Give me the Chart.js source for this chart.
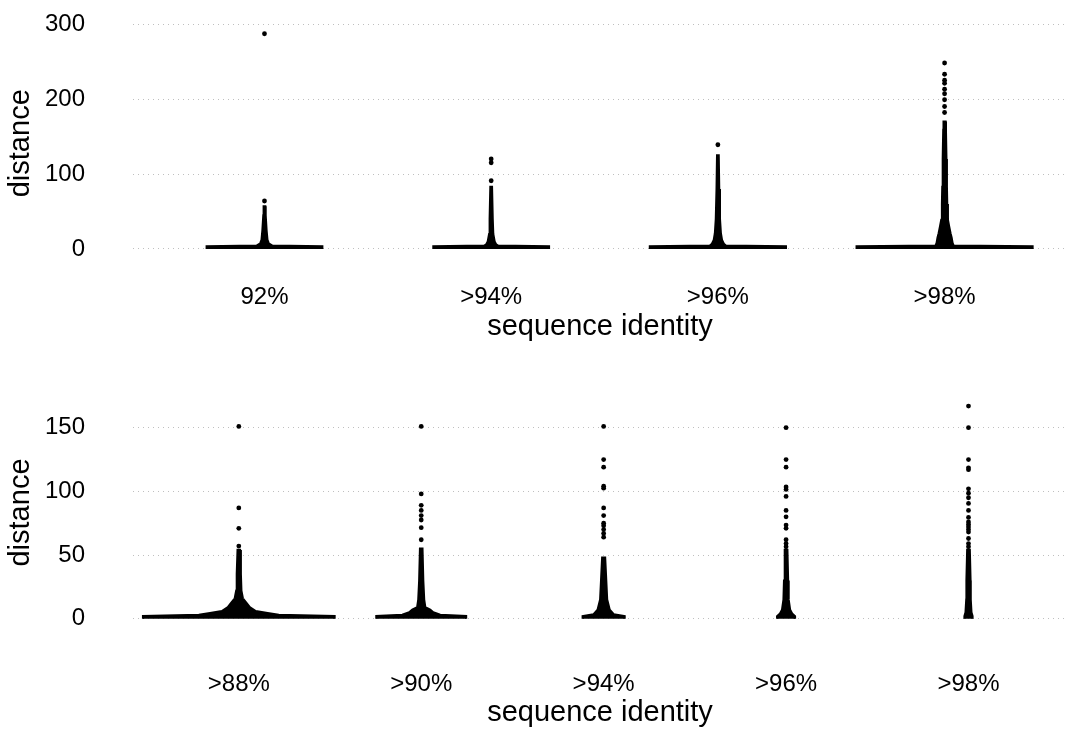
<!DOCTYPE html>
<html>
<head>
<meta charset="utf-8">
<script src="https://cdn.jsdelivr.net/npm/chart.js@4"></script>
<style>
  html, body { margin: 0; padding: 0; background: #fff; }
  body { width: 1071px; height: 732px; position: relative; overflow: hidden; }
  canvas { position: absolute; left: 0; }
  #topChart { top: 0; }
  #bottomChart { top: 360px; }
</style>
</head>
<body>
<canvas id="topChart" width="1071" height="345"></canvas>
<canvas id="bottomChart" width="1071" height="372"></canvas>
<script>
// ---------------------------------------
// swarm plots: distance vs sequence identity
// ---------------------------------------

const topCategories = ["92%", ">94%", ">96%", ">98%"];
const bottomCategories = [">88%", ">90%", ">94%", ">96%", ">98%"];

const topTicks = [0, 100, 200, 300];
const bottomTicks = [0, 50, 100, 150];

// dense body of each swarm: distance levels and the half width of the
// swarm at that level (fraction of the spacing between categories)
const top92Levels = [0, 3.5, 4.5, 6, 8, 12, 25, 45, 57];
const top92Half = [0.255, 0.255, 0.035, 0.026, 0.018, 0.013, 0.009, 0.005, 0.0035];
const top92Outliers = [64, 287];

const top94Levels = [0, 3.5, 4.5, 6, 10, 20, 40, 83];
const top94Half = [0.255, 0.255, 0.031, 0.022, 0.015, 0.009, 0.0066, 0.0035];
const top94Outliers = [91, 115, 120];

const top96Levels = [0, 3.5, 4.5, 7, 12, 21, 40, 80, 125];
const top96Half = [0.30, 0.30, 0.035, 0.026, 0.018, 0.013, 0.009, 0.0057, 0.0035];
const top96Outliers = [139];

const top98Levels = [0, 3.5, 4.5, 8, 15, 21, 30, 39, 60, 83, 120, 159, 170];
const top98Half = [0.388, 0.388, 0.040, 0.035, 0.031, 0.026, 0.020, 0.0145, 0.0115, 0.010, 0.008, 0.0057, 0.0044];
const top98Outliers = [182, 190, 199, 207, 213, 221, 225, 233, 248];

const bot88Levels = [0, 2, 3, 4.5, 6, 9, 12, 16, 22, 35, 54];
const bot88Half = [0.525, 0.525, 0.219, 0.158, 0.093, 0.060, 0.044, 0.022, 0.014, 0.011, 0.0066];
const bot88Outliers = [57, 71, 87, 151];

const bot90Levels = [0, 2, 3, 5, 7, 9, 15, 30, 55];
const bot90Half = [0.246, 0.246, 0.104, 0.066, 0.049, 0.022, 0.016, 0.011, 0.0066];
const bot90Outliers = [62, 71.5, 77.5, 81, 85, 89, 98, 151];

const bot94Levels = [0, 2, 3.5, 7, 15, 30, 48];
const bot94Half = [0.115, 0.115, 0.055, 0.033, 0.019, 0.014, 0.008];
const bot94Outliers = [64, 67, 70, 73, 75, 81, 87, 102.5, 104, 119, 125, 151];

const bot96Levels = [0, 2, 4, 7, 15, 30, 54];
const bot96Half = [0.049, 0.049, 0.033, 0.022, 0.014, 0.011, 0.007];
const bot96Outliers = [56.5, 59, 62, 71, 73.5, 80, 85, 96, 101.5, 103.5, 119, 125, 150];

const bot98Levels = [0, 2, 5, 15, 30, 54];
const bot98Half = [0.022, 0.022, 0.016, 0.012, 0.011, 0.007];
const bot98Outliers = [56.5, 59, 63, 68, 70, 72, 74, 76, 79.5, 85, 90.5, 95, 98.5, 102, 117, 118.5, 125, 150, 167];

const FONT = "'Liberation Sans', Arial, Helvetica, sans-serif";

// closed outline: up the left side, back down the right side
function swarmOutline(center, levels, half) {
    const left = levels.map((d, i) => ({ x: center - half[i], y: d }));
    const right = levels.map((d, i) => ({ x: center + half[i], y: d })).reverse();
    return left.concat(right);
}

function swarmDatasets(groups) {
    const sets = [];
    groups.forEach((g, i) => {
        const center = i + 1;
        sets.push({
            data: swarmOutline(center, g.levels, g.half),
            showLine: true,
            fill: "shape",
            backgroundColor: "#000",
            borderColor: "#000",
            borderWidth: 2.2,
            tension: 0,
            pointRadius: 0
        });
        sets.push({
            data: g.outliers.map(v => ({ x: center, y: v })),
            showLine: false,
            pointRadius: 2.4,
            pointBackgroundColor: "#000",
            pointBorderWidth: 0
        });
    });
    return sets;
}

function makeChart(id, categories, groups, opts) {
    new Chart(document.getElementById(id), {
        type: "scatter",
        data: { datasets: swarmDatasets(groups) },
        options: {
            responsive: false,
            animation: false,
            layout: { padding: { top: opts.padTop, left: 0, right: 0, bottom: 0 } },
            plugins: { legend: { display: false }, tooltip: { enabled: false } },
            scales: {
                x: {
                    type: "linear",
                    min: 0.42,
                    max: categories.length + 0.54,
                    afterBuildTicks: (scale) => {
                        scale.ticks = categories.map((_, i) => ({ value: i + 1 }));
                    },
                    afterFit: (scale) => { scale.height = opts.xHeight; },
                    ticks: {
                        autoSkip: false,
                        maxRotation: 0,
                        padding: opts.xTickPad,
                        color: "#000",
                        font: { family: FONT, size: 24 },
                        callback: (v) => categories[Math.round(v) - 1]
                    },
                    grid: { display: false, drawTicks: false },
                    border: { display: false },
                    title: {
                        display: true,
                        text: "sequence identity",
                        color: "#000",
                        font: { family: FONT, size: 29 },
                        padding: { top: 0, bottom: opts.xTitlePad }
                    }
                },
                y: {
                    min: opts.yMin,
                    max: opts.yMax,
                    afterBuildTicks: (scale) => {
                        scale.ticks = opts.yTicks.map(v => ({ value: v }));
                    },
                    // fixed axis width; the wide label gap should not push the plot down
                    afterFit: (scale) => {
                        scale.width = 133;
                        scale.paddingTop = 0;
                        scale.paddingBottom = 0;
                    },
                    ticks: {
                        padding: 48,
                        color: "#000",
                        font: { family: FONT, size: 24 }
                    },
                    grid: {
                        color: "rgba(0,0,0,0.25)",
                        lineWidth: 1,
                        drawTicks: false
                    },
                    border: { display: false, dash: [1, 4] },
                    title: {
                        display: true,
                        text: "distance",
                        color: "#000",
                        font: { family: FONT, size: 29 },
                        padding: { top: 4, bottom: 0 }
                    }
                }
            }
        }
    });
}

makeChart("topChart", topCategories, [
    { levels: top92Levels, half: top92Half, outliers: top92Outliers },
    { levels: top94Levels, half: top94Half, outliers: top94Outliers },
    { levels: top96Levels, half: top96Half, outliers: top96Outliers },
    { levels: top98Levels, half: top98Half, outliers: top98Outliers }
], { yMin: -38, yMax: 320, yTicks: topTicks, padTop: 9, xHeight: 67.5, xTickPad: 5, xTitlePad: 1 });

makeChart("bottomChart", bottomCategories, [
    { levels: bot88Levels, half: bot88Half, outliers: bot88Outliers },
    { levels: bot90Levels, half: bot90Half, outliers: bot90Outliers },
    { levels: bot94Levels, half: bot94Half, outliers: bot94Outliers },
    { levels: bot96Levels, half: bot96Half, outliers: bot96Outliers },
    { levels: bot98Levels, half: bot98Half, outliers: bot98Outliers }
], { yMin: -12.8, yMax: 179.6, yTicks: bottomTicks, padTop: 30, xHeight: 97, xTickPad: 35, xTitlePad: 2 });
</script>
</body>
</html>
